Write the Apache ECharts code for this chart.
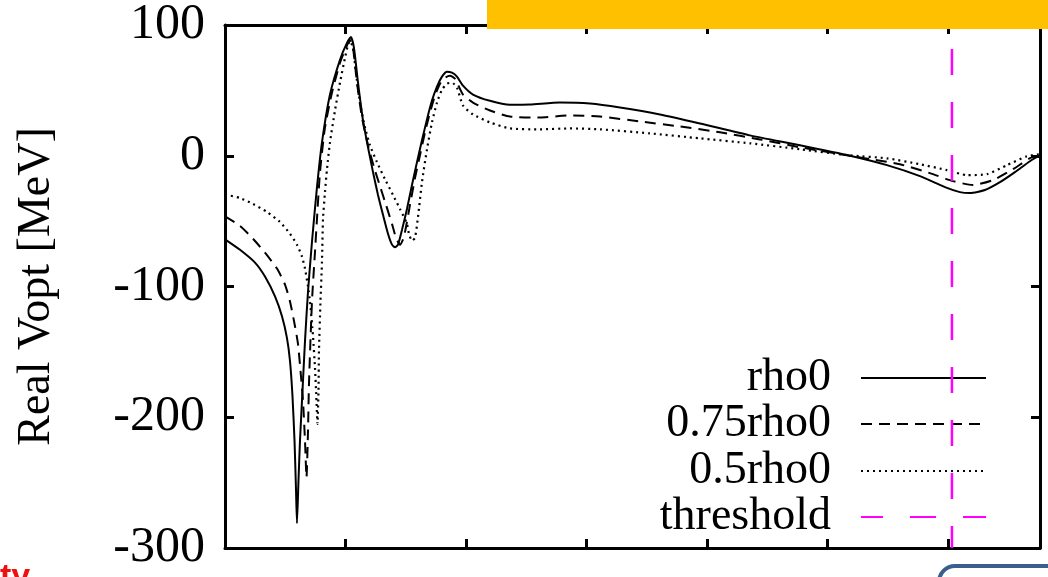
<!DOCTYPE html>
<html>
<head>
<meta charset="utf-8">
<script src="https://cdn.jsdelivr.net/npm/echarts@6/dist/echarts.min.js"></script>
<style>
  html, body { margin: 0; padding: 0; background: #fff; }
  #chart { width: 1048px; height: 577px; }
</style>
</head>
<body>
<div id="chart"></div>
<script>
// Real part of the optical potential vs. energy (arbitrary energy units, tick step 20)
const seriesNames = ['rho0', '0.75rho0', '0.5rho0', 'threshold'];
const yTicks = [-300, -200, -100, 0, 100];
const thresholdEnergy = 120.68;

const rho0 = [
  [0, -63.9], [2.49, -71.9], [4.98, -81.7], [6.64, -92.4], [8.30, -107.6],
  [9.46, -122.8], [10.29, -139.5], [10.79, -157], [11.20, -183.6], [11.54, -217.9],
  [11.79, -255.9], [11.95, -281], [12.20, -248.3], [12.45, -217.9], [12.78, -187.5],
  [13.28, -141.8], [13.78, -103.8], [14.44, -65.8], [15.27, -24], [16.10, 10.3],
  [17.43, 46.8], [19.09, 73.4], [20.25, 86.3], [20.91, 90.9], [21.41, 82.5],
  [22.08, 55.9], [22.91, 27], [23.74, 6.5], [24.57, -12.5], [25.40, -30],
  [26.23, -45.2], [27.06, -59.7], [27.72, -68], [28.22, -70], [28.72, -68],
  [29.38, -56.7], [30.21, -40.7], [31.04, -22.4], [31.87, -4.9], [32.70, 11.8],
  [33.53, 27.8], [34.36, 42.2], [35.19, 52.9], [36.02, 60.5], [36.85, 64.3],
  [37.68, 63.5], [38.51, 60.5], [39.51, 53.6], [41.17, 46.8], [43.99, 42],
  [47.31, 39], [50.63, 39.2], [55.61, 40.7], [60.59, 39.9], [65.57, 36.9],
  [72.21, 31.6], [78.85, 24.7], [87.15, 15.6], [95.45, 8], [103.75, 0],
  [109.89, -7.2], [115.37, -15.6], [119.52, -24], [122.01, -27.8], [123.67, -28.5],
  [126.16, -26.2], [128.65, -20.2], [131.14, -12.5], [133.63, -4.2], [135.29, 0.4]
];

const rho075 = [
  [0, -46.4], [2.49, -53.6], [4.65, -63.5], [6.64, -74.1], [8.63, -86.3],
  [9.96, -98.5], [10.79, -111.4], [11.62, -130.4], [12.12, -144.1], [12.61, -168.4],
  [12.95, -187.5], [13.28, -217.9], [13.53, -246], [13.78, -210.3], [13.94, -174.5],
  [14.44, -111.4], [14.94, -73.4], [15.27, -48.3], [15.77, -12.5], [16.60, 21.7],
  [17.76, 48.3], [19.09, 71.1], [20.08, 82.5], [20.75, 88.6], [21.25, 82.5],
  [21.91, 55.9], [22.74, 29.3], [23.74, 8], [24.73, -8.7], [25.73, -23.2],
  [26.73, -37.6], [27.72, -52.1], [28.39, -62.7], [29.05, -68], [29.71, -62],
  [30.71, -37.6], [31.54, -17.1], [32.37, 0.4], [33.20, 17.9], [34.03, 33.1],
  [34.86, 46], [35.69, 55.1], [36.52, 59.7], [37.35, 61.2], [38.18, 58.9],
  [39.51, 46.8], [41.17, 40.7], [43.99, 34.6], [47.31, 30], [52.29, 29.3],
  [57.27, 30.8], [62.25, 30], [68.89, 26.2], [75.53, 22.4], [82.17, 17.9],
  [88.81, 12.5], [95.45, 6.5], [103.75, 0], [107.07, -2.5], [112.05, -6.5],
  [117.03, -13.3], [120.85, -19.4], [124.17, -22.4], [127.49, -18.6], [130.81, -10.3],
  [133.63, -1.9], [135.29, 0.4]
];

const rho05 = [
  [0, -29.7], [2.49, -32.3], [4.65, -36.9], [6.97, -43], [9.13, -50.6],
  [10.79, -59.7], [11.95, -68], [12.78, -77.2], [13.28, -86.3], [13.78, -100],
  [14.11, -111.4], [14.61, -138], [14.94, -162.4], [15.19, -187.5], [15.35, -205],
  [15.52, -179.8], [15.60, -149.4], [15.85, -111.4], [16.10, -81], [16.27, -48.3],
  [16.60, -27.8], [16.93, -10.3], [17.43, 10.3], [18.26, 34.6], [19.09, 55.9],
  [19.92, 74.9], [20.42, 84.8], [20.75, 87.8], [21.25, 82.5], [21.74, 63.5],
  [22.41, 40.7], [23.24, 21.7], [24.07, 8], [25.23, -4.9], [26.56, -17.9],
  [27.89, -30], [29.05, -40.7], [30.21, -52.1], [30.54, -59.7], [31.04, -65],
  [31.54, -62.7], [32.04, -46.8], [32.70, -20.2], [33.53, 4.9], [34.36, 25.5],
  [35.19, 40.7], [36.02, 50.6], [36.85, 55.1], [37.68, 55.9], [38.51, 52.1],
  [39.51, 38.4], [41.17, 31.6], [43.99, 25.5], [47.31, 20.9], [52.29, 20.2],
  [57.27, 20.9], [62.25, 20.2], [70.55, 17.1], [78.85, 13.3], [87.15, 9.5],
  [95.45, 5], [103.75, 0.3], [109.89, -2], [115.37, -6.5], [119.85, -11],
  [123.17, -14.8], [126.49, -14.1], [129.81, -7.2], [133.13, -0.4], [135.29, 1.1]
];

const thresholdLine = [[thresholdEnergy, yTicks[0]], [thresholdEnergy, yTicks[yTicks.length - 1]]];

const SERIF = '"Liberation Serif", "Times New Roman", "DejaVu Serif", serif';
const FRAME = { color: '#000', width: 3 };

function frameAxis(extra) {
  return Object.assign({
    type: 'value',
    axisLine: { show: true, onZero: false, lineStyle: FRAME },
    axisTick: { show: true, inside: true, length: 9, lineStyle: { color: '#000', width: 3 } },
    axisLabel: { show: false },
    splitLine: { show: false }
  }, extra);
}

const legendRows = [355, 401, 448, 494];

const chart = echarts.init(document.getElementById('chart'), null, { renderer: 'canvas' });
chart.setOption({
  backgroundColor: '#ffffff',
  animation: false,
  grid: { left: 225, right: 8, top: 22, bottom: 29 },
  xAxis: [
    frameAxis({ min: 0, max: 135.3, interval: 20, position: 'bottom' }),
    frameAxis({ min: 0, max: 135.3, interval: 20, position: 'top' })
  ],
  yAxis: [
    frameAxis({
      min: yTicks[0], max: yTicks[yTicks.length - 1], interval: 100, position: 'left',
      axisLabel: { show: true, color: '#000', fontFamily: SERIF, fontSize: 50, margin: 20 },
      name: 'Real Vopt [MeV]', nameLocation: 'middle', nameRotate: 90, nameGap: 165,
      nameTextStyle: { color: '#000', fontFamily: SERIF, fontSize: 46 }
    }),
    frameAxis({ min: yTicks[0], max: yTicks[yTicks.length - 1], interval: 100, position: 'right' })
  ],
  legend: seriesNames.map((n, i) => ({
    data: [n],
    orient: 'horizontal',
    right: 61,
    top: legendRows[i],
    align: 'right',
    padding: 0,
    itemWidth: 125,
    itemHeight: 20,
    selectedMode: false,
    itemStyle: { opacity: 0 },
    textStyle: { color: '#000', fontFamily: SERIF, fontSize: 46, lineHeight: 46, padding: [0, 25, 0, 0] }
  })),
  series: [
    {
      name: seriesNames[0], type: 'line', data: rho0, symbol: 'none', smooth: 0.2,
      lineStyle: { color: '#000', width: 2, type: 'solid' }, itemStyle: { color: '#000' }, z: 3
    },
    {
      name: seriesNames[1], type: 'line', data: rho075, symbol: 'none', smooth: 0.2,
      lineStyle: { color: '#000', width: 2, type: [11, 7] }, itemStyle: { color: '#000' }, z: 3
    },
    {
      name: seriesNames[2], type: 'line', data: rho05, symbol: 'none', smooth: 0.2,
      lineStyle: { color: '#000', width: 2.2, type: [2, 4] }, itemStyle: { color: '#000' }, z: 3
    },
    {
      name: seriesNames[3], type: 'line', data: thresholdLine, symbol: 'none',
      lineStyle: { color: '#ff00ff', width: 2.5, type: [26, 27], dashOffset: 4 },
      itemStyle: { color: '#ff00ff' }, z: 4
    }
  ],
  graphic: [
    { type: 'rect', z: 100, shape: { x: 487, y: 0, width: 561, height: 29 }, style: { fill: '#FFC000' } },
    { type: 'rect', z: 100, shape: { x: 939, y: 566, width: 160, height: 60, r: 16 },
      style: { fill: '#ffffff', stroke: '#3B5E8C', lineWidth: 4 } },
    { type: 'text', z: 100, left: 0, top: 561,
      style: { text: 'ty', fill: '#ee1111', font: 'bold 34px "Liberation Sans", Arial, sans-serif' } }
  ]
});
</script>
</body>
</html>
